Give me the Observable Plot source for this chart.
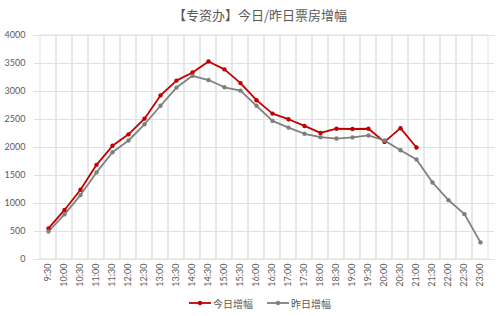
<!DOCTYPE html>
<html>
<head>
<meta charset="utf-8">
<script src="https://cdn.jsdelivr.net/npm/d3@7"></script>
<script src="https://cdn.jsdelivr.net/npm/@observablehq/plot@0.6"></script>
<style>
  html, body { margin: 0; padding: 0; background: #fff; }
  body { width: 500px; height: 316px; overflow: hidden; font-family: Lato, "Noto Sans CJK SC", sans-serif; }
  #title { height: 30px; line-height: 30px; text-align: center; padding-left: 20px; box-sizing: border-box; font-size: 13px; color: #595959; font-family: "Noto Sans CJK SC", sans-serif; }
  #legend { height: 26px; display: flex; justify-content: center; align-items: center; padding-left: 20px; box-sizing: border-box; font-size: 10px; color: #595959; font-family: "Noto Sans CJK SC", sans-serif; gap: 14px; }
  .item { display: flex; align-items: center; gap: 2px; }
  svg { display: block; }
</style>
</head>
<body>
<div id="title">【专资办】今日/昨日票房增幅</div>
<div id="chart"></div>
<div id="legend"></div>
<script>
const times = ["9:30","10:00","10:30","11:00","11:30","12:00","12:30","13:00","13:30","14:00","14:30","15:00","15:30","16:00","16:30","17:00","17:30","18:00","18:30","19:00","19:30","20:00","20:30","21:00","21:30","22:00","22:30","23:00"];
const today = [555, 885, 1245, 1690, 2030, 2235, 2515, 2930, 3195, 3340, 3535, 3395, 3150, 2845, 2605, 2505, 2385, 2260, 2335, 2330, 2335, 2100, 2345, 2000];
const yesterday = [500, 805, 1150, 1555, 1915, 2125, 2415, 2745, 3070, 3280, 3205, 3075, 3015, 2745, 2475, 2355, 2245, 2185, 2160, 2180, 2215, 2125, 1950, 1785, 1375, 1060, 810, 305];
const yTicks = [0, 500, 1000, 1500, 2000, 2500, 3000, 3500, 4000];
const seriesNames = ["今日增幅", "昨日增幅"];
const seriesColors = ["#C00000", "#7F7F7F"];

const rows = [];
today.forEach((v, i) => rows.push({time: times[i], value: v, series: seriesNames[0]}));
yesterday.forEach((v, i) => rows.push({time: times[i], value: v, series: seriesNames[1]}));
const cells = times.map(t => ({time: t}));

const chart = Plot.plot({
  width: 500,
  height: 260,
  marginLeft: 34,
  marginRight: 6,
  marginTop: 5,
  marginBottom: 31,
  style: {fontFamily: "Lato, 'Noto Sans CJK SC', sans-serif", fontSize: "9px", color: "#595959", background: "#fff"},
  x: {type: "band", domain: times, padding: 0, label: null, tickSize: 0, tickPadding: 4, tickRotate: -90},
  y: {domain: [0, 4000], ticks: yTicks, tickFormat: d => String(d), label: null, tickSize: 0, tickPadding: 9},
  color: {domain: seriesNames, range: seriesColors},
  marks: [
    Plot.barY(cells, {x: "time", y1: 0, y2: 4000, fill: "none", stroke: "#E0E0E0", strokeWidth: 1, inset: 0}),
    Plot.ruleY(yTicks, {stroke: "#E0E0E0", strokeWidth: 1}),
    Plot.line(rows, {x: "time", y: "value", z: "series", stroke: "series", strokeWidth: 1.8}),
    Plot.dot(rows, {x: "time", y: "value", fill: "series", r: 2.2})
  ]
});
document.getElementById("chart").appendChild(chart);

const legend = document.getElementById("legend");
seriesNames.forEach((name, i) => {
  const item = document.createElement("div");
  item.className = "item";
  item.innerHTML = `<svg width="22" height="8"><line x1="0" y1="4" x2="22" y2="4" stroke="${seriesColors[i]}" stroke-width="1.8"/><circle cx="11" cy="4" r="2.2" fill="${seriesColors[i]}"/></svg><span>${name}</span>`;
  legend.appendChild(item);
});
</script>
</body>
</html>
